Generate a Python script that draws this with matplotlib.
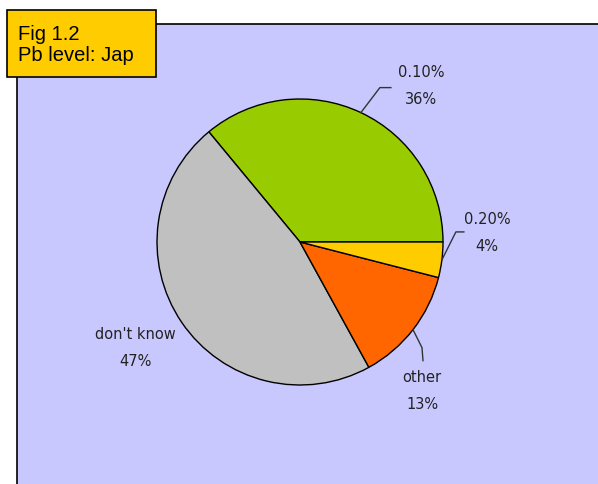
import numpy as np
import matplotlib.pyplot as plt
from matplotlib.patches import Rectangle

# Pb level survey answers (share of respondents, %)
categories = ['0.10%', "don't know", 'other', '0.20%']
shares = [36, 47, 13, 4]
colors = ['#99CC00', '#C0C0C0', '#FF6600', '#FFCC00']

W, H = 598, 485
fig = plt.figure(figsize=(W / 100, H / 100), dpi=100)
ax = fig.add_axes([0, 0, 1, 1])

# chart area background
ax.add_patch(Rectangle((17, 0), W - 17, H - 25, facecolor='#C8C8FF', edgecolor='none', zorder=0))
ax.plot([17, 17, W], [0, H - 25, H - 25], color='black', lw=1.2, zorder=1)

cx, cy, r = 300, 242, 143
wedges, _ = ax.pie(shares, colors=colors, startangle=0, counterclock=True,
                   center=(cx, cy), radius=r, frame=True,
                   wedgeprops=dict(edgecolor='black', linewidth=1.0))
ax.set_xlim(0, W)
ax.set_ylim(0, H)
ax.set_aspect('equal')
ax.axis('off')

# label placement: (leader elbow dx, dy), (end dx, dy), (text x, y), draw leader?
label_pos = {
    '0.10%': ((19, 25), (11, 0), (421, 399), True),
    '0.20%': ((14, 28), (8, 0), (487, 252), True),
    'other': ((9, -18), (1, -13), (422, 94), True),
    "don't know": (None, None, (135, 137), False),
}

for w, cat, val in zip(wedges, categories, shares):
    mid = np.deg2rad((w.theta1 + w.theta2) / 2)
    px, py = cx + r * np.cos(mid), cy + r * np.sin(mid)
    d1, d2, (tx, ty), leader = label_pos[cat]
    if leader:
        x1, y1 = px + d1[0], py + d1[1]
        x2, y2 = x1 + d2[0], y1 + d2[1]
        ax.plot([px, x1, x2], [py, y1, y2], color='#333333', lw=1.0, zorder=3)
    ax.text(tx, ty, f'{cat}\n{val}%', ha='center', va='center', fontsize=10.5,
            family='DejaVu Sans', color='#222222', linespacing=2.0, zorder=4)

# figure tag box
ax.add_patch(Rectangle((7, H - 78), 149, 67, facecolor='#FFCC00', edgecolor='black', lw=1.2, zorder=5))
ax.text(18, H - 45, 'Fig 1.2\nPb level: Jap', ha='left', va='center', fontsize=14.5,
        family='Liberation Sans', linespacing=1.15, zorder=6)

fig.savefig('out.png', dpi=100)
